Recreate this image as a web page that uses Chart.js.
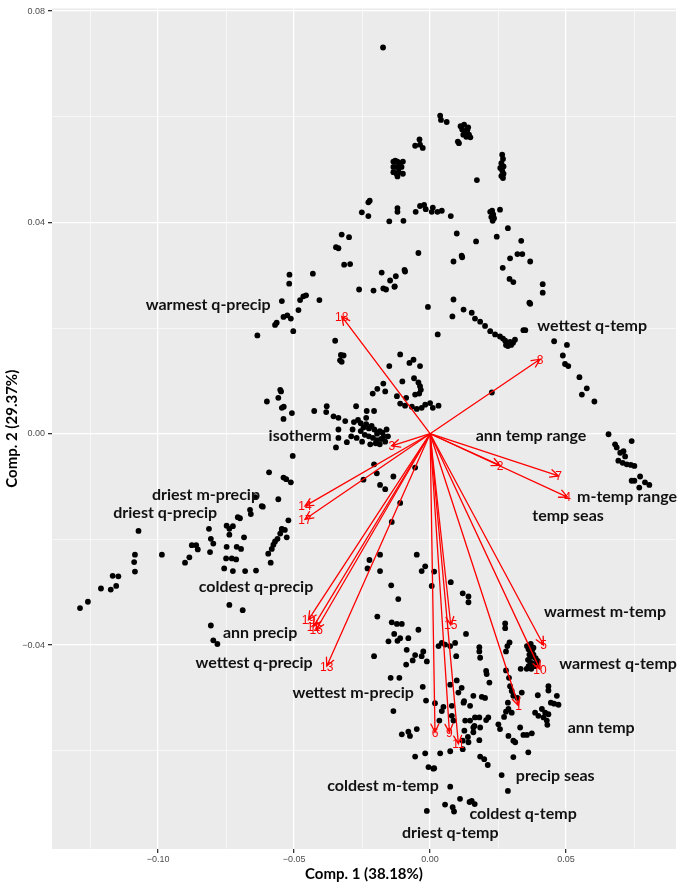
<!DOCTYPE html>
<html>
<head>
<meta charset="utf-8">
<script src="https://cdn.jsdelivr.net/npm/chart.js@4.4.0/dist/chart.umd.min.js"></script>
<style>
  html, body { margin: 0; padding: 0; background: #fff; }
  #wrap { width: 685px; height: 885px; }
</style>
</head>
<body>
<div id="wrap"><canvas id="biplot"></canvas></div>
<script>
// PCA scores (Comp. 1, Comp. 2)
const pcScores = [
  [-0.0173,0.0731],
  [0.0037,0.0602],[0.0040,0.0594],[0.0061,0.0590],
  [0.0112,0.0582],[0.0118,0.0576],[0.0125,0.0585],[0.0130,0.0570],[0.0137,0.0575],[0.0143,0.0566],[0.0148,0.0561],[0.0122,0.0566],[0.0133,0.0562],[0.0140,0.0580],
  [0.0102,0.0553],[0.0106,0.0550],
  [-0.0135,0.0515],[-0.0128,0.0517],[-0.0120,0.0515],[-0.0112,0.0512],[-0.0100,0.0515],[-0.0135,0.0505],[-0.0125,0.0505],[-0.0115,0.0503],[-0.0105,0.0505],[-0.0135,0.0495],[-0.0125,0.0493],[-0.0115,0.0495],[-0.0100,0.0492],[-0.0120,0.0487],
  [-0.0039,0.0557],[-0.0055,0.0545],[-0.0037,0.0547],[-0.0027,0.0541],
  [0.0265,0.0528],[0.0268,0.0520],[0.0262,0.0512],[0.0270,0.0506],[0.0258,0.0503],[0.0265,0.0498],[0.0270,0.0492],[0.0262,0.0488],[0.0268,0.0484],
  [0.0172,0.0480],
  [-0.0227,0.0438],[-0.0222,0.0441],[-0.0251,0.0419],[-0.0227,0.0412],[-0.0120,0.0427],[-0.0120,0.0420],[-0.0150,0.0402],[-0.0098,0.0403],[-0.0053,0.0420],[-0.0037,0.0431],[-0.0022,0.0433],[-0.0016,0.0425],[0.0010,0.0428],[0.0006,0.0420],[0.0027,0.0420],[0.0043,0.0422],[0.0076,0.0412],
  [0.0221,0.0420],[0.0228,0.0422],[0.0232,0.0415],[0.0225,0.0410],[0.0235,0.0408],[0.0230,0.0403],[0.0257,0.0424],
  [0.0098,0.0379],[0.0169,0.0364],[0.0245,0.0373],[0.0286,0.0389],[0.0335,0.0365],
  [-0.0043,0.0342],[0.0086,0.0326],[0.0116,0.0337],[0.0118,0.0334],
  [-0.0325,0.0377],[-0.0298,0.0372],[-0.0346,0.0353],[-0.0337,0.0351],[-0.0316,0.0320],[-0.0294,0.0321],
  [0.0294,0.0332],[0.0321,0.0340],[0.0339,0.0340],[0.0368,0.0326],[0.0267,0.0314],
  [-0.0178,0.0305],[-0.0126,0.0298],[-0.0147,0.0290],[-0.0094,0.0310],[-0.0092,0.0307],[-0.0130,0.0279],[-0.0172,0.0275],[-0.0162,0.0273],[-0.0208,0.0271],[-0.0261,0.0273],[-0.0131,0.0278],
  [-0.0517,0.0301],[-0.0518,0.0284],[-0.0431,0.0303],[-0.0466,0.0260],[-0.0456,0.0262],[-0.0478,0.0253],[-0.0407,0.0253],
  [0.0292,0.0293],[0.0306,0.0287],[0.0414,0.0283],[0.0414,0.0267],[0.0086,0.0254],[0.0365,0.0248],
  [-0.0545,0.0251],[-0.0484,0.0234],[-0.0539,0.0221],[-0.0525,0.0224],[-0.0570,0.0206],[-0.0564,0.0210],[-0.0512,0.0218],[-0.0503,0.0194],[-0.0635,0.0186],
  [-0.0008,0.0240],[0.0082,0.0222],[0.0123,0.0235],[0.0153,0.0229],[0.0165,0.0218],[0.0184,0.0212],[0.0202,0.0204],[0.0221,0.0194],[0.0239,0.0188],[0.0257,0.0184],
  [0.0268,0.0180],[0.0276,0.0176],[0.0283,0.0172],[0.0290,0.0170],[0.0298,0.0168],[0.0286,0.0166],[0.0279,0.0168],[0.0294,0.0174],[0.0305,0.0172],[0.0312,0.0178],
  [0.0343,0.0196],[0.0350,0.0196],[0.0368,0.0246],[0.0028,0.0188],
  [-0.0349,0.0176],[-0.0328,0.0149],[-0.0318,0.0148],[-0.0331,0.0139],[-0.0325,0.0136],
  [-0.0110,0.0150],[-0.0076,0.0134],[-0.0061,0.0140],[-0.0037,0.0128],[-0.0150,0.0128],[-0.0102,0.0099],[-0.0059,0.0105],[-0.0043,0.0097],[-0.0037,0.0090],[-0.0034,0.0083],[-0.0055,0.0074],[-0.0040,0.0076],
  [-0.0172,0.0095],[-0.0194,0.0085],[-0.0165,0.0080],[-0.0211,0.0076],[-0.0122,0.0071],[-0.0088,0.0068],[-0.0110,0.0057],[-0.0092,0.0053],
  [-0.0067,0.0051],[-0.0049,0.0047],[-0.0031,0.0049],[-0.0018,0.0055],[0.0000,0.0058],[0.0010,0.0049],[0.0031,0.0053],
  [-0.0272,0.0052],[-0.0380,0.0052],[-0.0426,0.0043],[-0.0382,0.0041],[-0.0355,0.0033],[-0.0337,0.0030],[-0.0312,0.0024],[-0.0233,0.0043],[-0.0206,0.0043],[-0.0235,0.0030],
  [-0.0280,0.0022],[-0.0265,0.0026],[-0.0255,0.0020],[-0.0245,0.0012],[-0.0235,0.0018],[-0.0225,0.0010],[-0.0215,0.0015],[-0.0205,0.0008],[-0.0195,0.0000],[-0.0185,0.0005],[-0.0175,0.0002],[-0.0170,-0.0005],[-0.0180,-0.0010],[-0.0195,-0.0012],
  [-0.0210,-0.0008],[-0.0225,-0.0005],[-0.0240,-0.0002],[-0.0255,0.0005],[-0.0200,-0.0018],[-0.0185,-0.0020],[-0.0165,-0.0015],[-0.0155,-0.0005],[-0.0160,0.0008],[-0.0220,-0.0020],[-0.0250,-0.0015],[-0.0270,-0.0008],[-0.0285,0.0008],[-0.0290,-0.0005],
  [-0.0337,0.0008],[-0.0337,-0.0008],[-0.0346,-0.0026],[-0.0306,-0.0016],
  [-0.0600,0.0061],[-0.0558,0.0068],[-0.0551,0.0083],[-0.0548,0.0080],[-0.0545,0.0049],[-0.0538,0.0051],[-0.0539,0.0028],[-0.0508,0.0039],[-0.0505,-0.0042],
  [-0.0206,-0.0058],[-0.0196,-0.0075],[-0.0245,-0.0087],[-0.0184,-0.0097],[-0.0165,-0.0105],[-0.0135,-0.0081],[-0.0055,-0.0064],[-0.0110,-0.0131],[-0.0141,-0.0167],
  [-0.0592,-0.0073],[-0.0539,-0.0083],[-0.0529,-0.0086],[-0.0512,-0.0092],[-0.0643,-0.0120],[-0.0619,-0.0137],[-0.0558,-0.0124],[-0.0521,-0.0164],[-0.0545,-0.0180],
  [-0.0615,-0.0138],[-0.0662,-0.0144],[-0.0659,-0.0152],[-0.0707,-0.0158],[-0.0699,-0.0160],[-0.0684,-0.0196],[-0.0748,-0.0174],[-0.0725,-0.0175],[-0.0738,-0.0180],[-0.0738,-0.0191],[-0.0813,-0.0180],[-0.0806,-0.0199],
  [-0.0797,-0.0208],[-0.0809,-0.0224],[-0.0748,-0.0214],[-0.0711,-0.0214],[-0.0695,-0.0218],[-0.0750,-0.0236],[-0.0729,-0.0236],[-0.0713,-0.0238],[-0.0757,-0.0255],[-0.0725,-0.0260],[-0.0680,-0.0260],[-0.0640,-0.0259],
  [-0.0545,-0.0181],[-0.0534,-0.0182],[-0.0551,-0.0189],[-0.0561,-0.0199],[-0.0570,-0.0204],[-0.0576,-0.0210],[-0.0582,-0.0218],[-0.0595,-0.0227],[-0.0586,-0.0244],[-0.0527,-0.0196],
  [-0.1072,-0.0184],[-0.1085,-0.0229],[-0.1088,-0.0243],[-0.1085,-0.0261],[-0.0986,-0.0229],[-0.0901,-0.0244],[-0.0885,-0.0234],[-0.0876,-0.0211],[-0.0860,-0.0211],[-0.0854,-0.0219],
  [-0.1167,-0.0269],[-0.1146,-0.0270],[-0.1154,-0.0288],[-0.1174,-0.0295],[-0.1210,-0.0293],[-0.1258,-0.0318],[-0.1287,-0.0330],
  [-0.0738,-0.0324],[-0.0689,-0.0334],[-0.0806,-0.0363],[-0.0797,-0.0391],[-0.0782,-0.0398],
  [-0.0223,-0.0239],[-0.0230,-0.0255],[-0.0184,-0.0229],[-0.0184,-0.0260],[-0.0049,-0.0229],[-0.0018,-0.0251],[-0.0031,-0.0260],[0.0015,-0.0261],[0.0006,-0.0288],[0.0076,-0.0281],[-0.0143,-0.0287],[-0.0117,-0.0313],[0.0120,-0.0302],[0.0141,-0.0308],[0.0141,-0.0319],
  [-0.0194,-0.0346],[-0.0141,-0.0357],[-0.0122,-0.0360],[-0.0104,-0.0360],[-0.0132,-0.0379],[-0.0110,-0.0387],[-0.0153,-0.0393],[-0.0120,-0.0392],[-0.0080,-0.0387],[-0.0043,-0.0371],[-0.0086,-0.0409],[-0.0055,-0.0419],[-0.0025,-0.0412],
  [-0.0031,-0.0421],[-0.0206,-0.0421],[-0.0088,-0.0437],[-0.0064,-0.0429],[-0.0012,-0.0431],[-0.0145,-0.0462],[-0.0113,-0.0462],[-0.0027,-0.0479],[-0.0015,-0.0505],[-0.0135,-0.0525],
  [-0.0104,-0.0569],[-0.0080,-0.0564],[-0.0074,-0.0572],[-0.0049,-0.0559],[-0.0055,-0.0611],[-0.0018,-0.0605],[-0.0006,-0.0631],[0.0015,-0.0633],[0.0037,-0.0605],[0.0074,-0.0601],[0.0120,-0.0597],[0.0074,-0.0668],
  [0.0031,-0.0402],[0.0043,-0.0396],[0.0055,-0.0399],[0.0074,-0.0402],[0.0092,-0.0396],[0.0096,-0.0421],[0.0132,-0.0379],[0.0098,-0.0467],[0.0116,-0.0481],[0.0104,-0.0490],[0.0074,-0.0475],
  [0.0018,-0.0510],[0.0049,-0.0517],[0.0043,-0.0525],[0.0080,-0.0515],[0.0080,-0.0534],[0.0086,-0.0543],[0.0034,-0.0543],[0.0123,-0.0509],[0.0147,-0.0515],[0.0129,-0.0543],[0.0147,-0.0543],
  [0.0163,-0.0553],[0.0126,-0.0562],[0.0139,-0.0574],[0.0159,-0.0565],[0.0184,-0.0556],[0.0181,-0.0537],[0.0190,-0.0498],[0.0181,-0.0580],[0.0214,-0.0537],[0.0120,-0.0581],
  [0.0181,-0.0404],[0.0181,-0.0412],[0.0184,-0.0424],[0.0206,-0.0449],[0.0208,-0.0455],[0.0218,-0.0471],[0.0202,-0.0500],
  [0.0184,-0.0611],[0.0199,-0.0616],[0.0212,-0.0627],[0.0251,-0.0550],[0.0257,-0.0559],[0.0288,-0.0572],[0.0263,-0.0646],
  [0.0276,-0.0359],[0.0276,-0.0368],[0.0292,-0.0395],[0.0284,-0.0402],[0.0279,-0.0412],
  [0.0356,-0.0402],[0.0362,-0.0408],[0.0370,-0.0398],[0.0375,-0.0410],[0.0380,-0.0405],[0.0365,-0.0418],[0.0372,-0.0422],[0.0380,-0.0418],[0.0388,-0.0425],
  [0.0360,-0.0428],[0.0368,-0.0432],[0.0378,-0.0435],[0.0385,-0.0440],[0.0392,-0.0438],[0.0362,-0.0440],[0.0372,-0.0445],[0.0355,-0.0445],[0.0395,-0.0430],
  [0.0333,-0.0445],[0.0279,-0.0448],[0.0290,-0.0462],[0.0294,-0.0478],[0.0300,-0.0487],[0.0306,-0.0496],[0.0321,-0.0500],[0.0337,-0.0490],[0.0288,-0.0521],[0.0279,-0.0526],
  [0.0300,-0.0528],[0.0272,-0.0536],[0.0313,-0.0584],[0.0306,-0.0581],[0.0331,-0.0556],[0.0343,-0.0570],[0.0356,-0.0570],[0.0374,-0.0567],[0.0361,-0.0603],[0.0306,-0.0612],
  [0.0396,-0.0495],[0.0435,-0.0478],[0.0435,-0.0486],[0.0466,-0.0496],[0.0444,-0.0509],[0.0456,-0.0511],[0.0472,-0.0513],[0.0386,-0.0528],[0.0398,-0.0534],[0.0411,-0.0521],
  [0.0423,-0.0528],[0.0435,-0.0531],[0.0429,-0.0543],[0.0431,-0.0551],[0.0417,-0.0537],
  [0.0286,-0.0676],[0.0110,-0.0691],[0.0153,-0.0695],[0.0145,-0.0697],[0.0055,-0.0702],[0.0083,-0.0707],[0.0012,-0.0634],
  [0.0165,-0.0537],[0.0206,-0.0542],[0.0159,-0.0556],[0.0141,-0.0584],[0.0159,-0.0496],[0.0125,-0.0506],[0.0286,-0.0509],
  [-0.0012,-0.0714],[0.0088,-0.0715],[0.0164,-0.0701],
  [0.0456,0.0175],[0.0503,0.0168],[0.0488,0.0148],[0.0496,0.0132],[0.0508,0.0128],[0.0549,0.0107],[0.0576,0.0086],[0.0558,0.0074],[0.0604,0.0061],[0.0227,0.0078],
  [0.0656,-0.0001],[0.0741,-0.0014],[0.0680,-0.0020],[0.0686,-0.0026],[0.0699,-0.0036],[0.0711,-0.0033],[0.0692,-0.0051],[0.0708,-0.0055],[0.0723,-0.0058],
  [0.0738,-0.0059],[0.0751,-0.0061],[0.0717,-0.0043],[0.0772,-0.0081],[0.0741,-0.0089],[0.0751,-0.0089],[0.0769,-0.0102],[0.0790,-0.0092],[0.0806,-0.0097]
];

// loadings (arrow tips), numbered 1..19
const loadNum = ['1','2','3','4','5','6','7','8','9','10','11','12','13','14','15','16','17','18','19'];
const loadX = [0.0325, 0.0257, -0.0141, 0.0505, 0.0417, 0.0018, 0.0472, 0.0404, 0.0071, 0.0404,
               0.0104, -0.0429, -0.0380, -0.0460, 0.0076, -0.0419, -0.0460, -0.0325, -0.0447];
const loadY = [-0.0515, -0.0060, -0.0023, -0.0120, -0.0400, -0.0565, -0.0080, 0.0141, -0.0565, -0.0446,
               -0.0587, -0.0365, -0.0440, -0.0137, -0.0362, -0.0371, -0.0162, 0.0222, -0.0352];

// variable name labels
const varNames = ['warmest q-precip', 'wettest q-temp', 'isotherm', 'ann temp range', 'm-temp range', 'temp seas',
  'driest m-precip', 'driest q-precip', 'coldest q-precip', 'ann precip', 'wettest q-precip', 'wettest m-precip',
  'warmest m-temp', 'warmest q-temp', 'ann temp', 'precip seas', 'coldest q-temp', 'coldest m-temp', 'driest q-temp'];
const varX = [-0.0816, 0.0596, -0.0478, 0.0371, 0.0724, 0.0507, -0.0824, -0.0974, -0.0640, -0.0625, -0.0647, -0.0283,
              0.0643, 0.0691, 0.0629, 0.0460, 0.0342, -0.0173, 0.0074];
const varY = [0.0243, 0.0205, -0.0004, -0.0004, -0.0120, -0.0156, -0.0115, -0.0149, -0.0290, -0.0376, -0.0434, -0.0491,
              -0.0337, -0.0436, -0.0557, -0.0647, -0.0720, -0.0666, -0.0756];

const xTicks = [-0.125, -0.10, -0.075, -0.05, -0.025, 0, 0.025, 0.05, 0.075];
const yTicks = [-0.06, -0.04, -0.02, 0, 0.02, 0.04, 0.06, 0.08];

function isMajor(v, step) {
  const r = v / step;
  return Math.abs(r - Math.round(r)) < 1e-6;
}
function fmt(v) {
  const s = Math.abs(v).toFixed(2);
  return v < -1e-9 ? '\u2212' + s : s;
}

const panelBg = {
  id: 'panelBg',
  beforeDraw(chart) {
    const { ctx, chartArea: a } = chart;
    ctx.save();
    ctx.fillStyle = '#ffffff';
    ctx.fillRect(0, 0, chart.width, chart.height);
    ctx.fillStyle = '#ebebeb';
    ctx.fillRect(a.left, a.top, a.right - a.left, a.bottom - a.top);
    ctx.restore();
  }
};

const biplot = {
  id: 'biplot',
  afterDatasetsDraw(chart) {
    const { ctx } = chart;
    const sx = chart.scales.x, sy = chart.scales.y;
    const ox = sx.getPixelForValue(0), oy = sy.getPixelForValue(0);
    ctx.save();
    ctx.strokeStyle = '#ff0000';
    ctx.lineWidth = 1.3;
    ctx.lineCap = 'round';
    for (let i = 0; i < loadX.length; i++) {
      const tx = sx.getPixelForValue(loadX[i]), ty = sy.getPixelForValue(loadY[i]);
      const ang = Math.atan2(ty - oy, tx - ox);
      ctx.beginPath();
      ctx.moveTo(ox, oy);
      ctx.lineTo(tx, ty);
      const head = 9, spread = Math.PI / 7;
      ctx.moveTo(tx - head * Math.cos(ang - spread), ty - head * Math.sin(ang - spread));
      ctx.lineTo(tx, ty);
      ctx.lineTo(tx - head * Math.cos(ang + spread), ty - head * Math.sin(ang + spread));
      ctx.stroke();
    }
    ctx.fillStyle = '#ff0000';
    ctx.font = '12px "Liberation Sans", sans-serif';
    ctx.textAlign = 'center';
    ctx.textBaseline = 'middle';
    for (let i = 0; i < loadX.length; i++) {
      ctx.fillText(loadNum[i], sx.getPixelForValue(loadX[i]), sy.getPixelForValue(loadY[i]) + 1);
    }
    ctx.fillStyle = '#111111';
    ctx.font = 'bold 16px Lato, "Open Sans", sans-serif';
    for (let i = 0; i < varNames.length; i++) {
      ctx.fillText(varNames[i], sx.getPixelForValue(varX[i]), sy.getPixelForValue(varY[i]));
    }
    ctx.restore();
  }
};

const tickFont = { family: '"Liberation Sans", Arial, sans-serif', size: 9 };
const titleFont = { family: 'Lato, "Open Sans", sans-serif', size: 15, weight: 'bold' };

new Chart(document.getElementById('biplot'), {
  type: 'scatter',
  data: {
    datasets: [{
      data: pcScores.map(p => ({ x: p[0], y: p[1] })),
      backgroundColor: '#000000',
      borderWidth: 0,
      pointRadius: 2.9,
      pointHoverRadius: 2.9
    }]
  },
  options: {
    responsive: true,
    maintainAspectRatio: false,
    animation: false,
    devicePixelRatio: 1,
    layout: { padding: { left: 3, right: 9, top: 3, bottom: 0 } },
    plugins: { legend: { display: false }, tooltip: { enabled: false } },
    scales: {
      x: {
        type: 'linear',
        min: -0.139,
        max: 0.0904,
        afterBuildTicks: s => { s.ticks = xTicks.map(v => ({ value: v })); },
        afterFit: s => { s.height = 36; },
        border: { display: false },
        grid: {
          color: '#ffffff',
          lineWidth: c => (c.tick && isMajor(c.tick.value, 0.05)) ? 1.3 : 0.6,
          tickLength: 4,
          tickColor: c => (c.tick && isMajor(c.tick.value, 0.05)) ? '#333333' : 'rgba(0,0,0,0)'
        },
        ticks: {
          autoSkip: false,
          maxRotation: 0,
          padding: 1,
          color: '#4d4d4d',
          font: tickFont,
          callback: v => isMajor(v, 0.05) ? fmt(v) : ''
        },
        title: { display: true, text: 'Comp. 1 (38.18%)', color: '#000', font: titleFont, padding: { top: 0, bottom: 2 } }
      },
      y: {
        type: 'linear',
        min: -0.0786,
        max: 0.0805,
        afterBuildTicks: s => { s.ticks = yTicks.map(v => ({ value: v })); },
        afterFit: s => { s.width = 49; },
        border: { display: false },
        grid: {
          color: '#ffffff',
          lineWidth: c => (c.tick && isMajor(c.tick.value, 0.04)) ? 1.3 : 0.6,
          tickLength: 4,
          tickColor: c => (c.tick && isMajor(c.tick.value, 0.04)) ? '#333333' : 'rgba(0,0,0,0)'
        },
        ticks: {
          autoSkip: false,
          padding: 3,
          color: '#4d4d4d',
          font: tickFont,
          callback: v => isMajor(v, 0.04) ? fmt(v) : ''
        },
        title: { display: true, text: 'Comp. 2 (29.37%)', color: '#000', font: titleFont, padding: 0 }
      }
    }
  },
  plugins: [panelBg, biplot]
});
</script>
</body>
</html>
